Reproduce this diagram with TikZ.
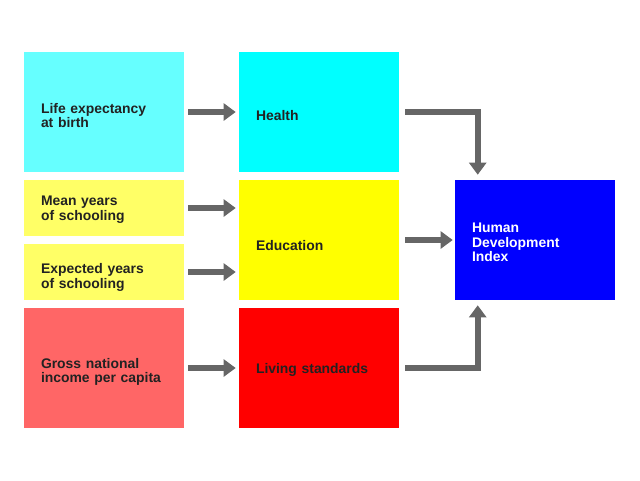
\documentclass[tikz,border=0pt]{standalone}
\usepackage{fontspec}
\setmainfont{Liberation Sans}
\usetikzlibrary{arrows.meta, positioning}

\definecolor{lifecol}{HTML}{66FFFF}
\definecolor{healthcol}{HTML}{00FFFF}
\definecolor{schoolcol}{HTML}{FFFF66}
\definecolor{educcol}{HTML}{FFFF00}
\definecolor{incomecol}{HTML}{FF6666}
\definecolor{livingcol}{HTML}{FF0000}
\definecolor{hdicol}{HTML}{0000FF}
\definecolor{arrowcol}{HTML}{666666}
\definecolor{textcol}{HTML}{222222}

\begin{document}
\begin{tikzpicture}[
  box/.style={rectangle, minimum width=4cm, inner xsep=0.425cm,
    text width=3.15cm, align=left, text=textcol,
    font=\fontsize{9.9}{10.3}\selectfont\bfseries},
  tallbox/.style={box, minimum height=3cm},
  shortbox/.style={box, minimum height=1.4cm},
  lower/.style={execute at end node={\endgraf\kern-#1}},
  sink/.style={execute at begin node={\rule{0pt}{#1}}},
  arr/.style={-{Triangle[width=0.42cm,length=0.3cm]}, line width=0.15cm,
    arrowcol, shorten <=0.1cm, shorten >=0.075cm},
]
\useasboundingbox (0,0) rectangle (16,-12);

% ── Indicators ──
\node[tallbox, fill=lifecol, lower=0.175cm] (life) at (2.6,-2.8)
  {Life expectancy\\at birth};
\node[shortbox, fill=schoolcol, lower=0.075cm] (mean) at (2.6,-5.2)
  {Mean years\\of schooling};
\node[shortbox, fill=schoolcol, lower=0.275cm] (expct) at (2.6,-6.8)
  {Expected years\\of schooling};
\node[tallbox, fill=incomecol, lower=0.2cm] (gross) at (2.6,-9.2)
  {Gross national\\income per capita};

% ── Dimensions ──
\node[tallbox, fill=healthcol, sink=0.42cm] (health) at (7.975,-2.8) {Health};
\node[tallbox, fill=educcol, sink=0.52cm] (educ) at (7.975,-6.0) {Education};
\node[tallbox, fill=livingcol, sink=0.37cm] (living) at (7.975,-9.2)
  {Living standards};

% ── Index ──
\node[tallbox, fill=hdicol, text=white, lower=0.125cm] (hdi) at (13.375,-6.0)
  {Human\\Development\\Index};

% Arrows: indicators -> dimensions
\draw[arr] (life.east) -- (health.west);
\draw[arr] (mean.east) -- (mean.east -| educ.west);
\draw[arr] (expct.east) -- (expct.east -| educ.west);
\draw[arr] (gross.east) -- (living.west);

% Arrows: dimensions -> index
\draw[arr, shorten <=0.15cm, shorten >=0.125cm]
  (health.east) -| ([xshift=0.575cm]hdi.north west);
\draw[arr, shorten <=0.15cm, shorten >=0.05cm] (educ.east) -- (hdi.west);
\draw[arr, shorten <=0.15cm, shorten >=0.125cm]
  (living.east) -| ([xshift=0.575cm]hdi.south west);
\end{tikzpicture}
\end{document}
